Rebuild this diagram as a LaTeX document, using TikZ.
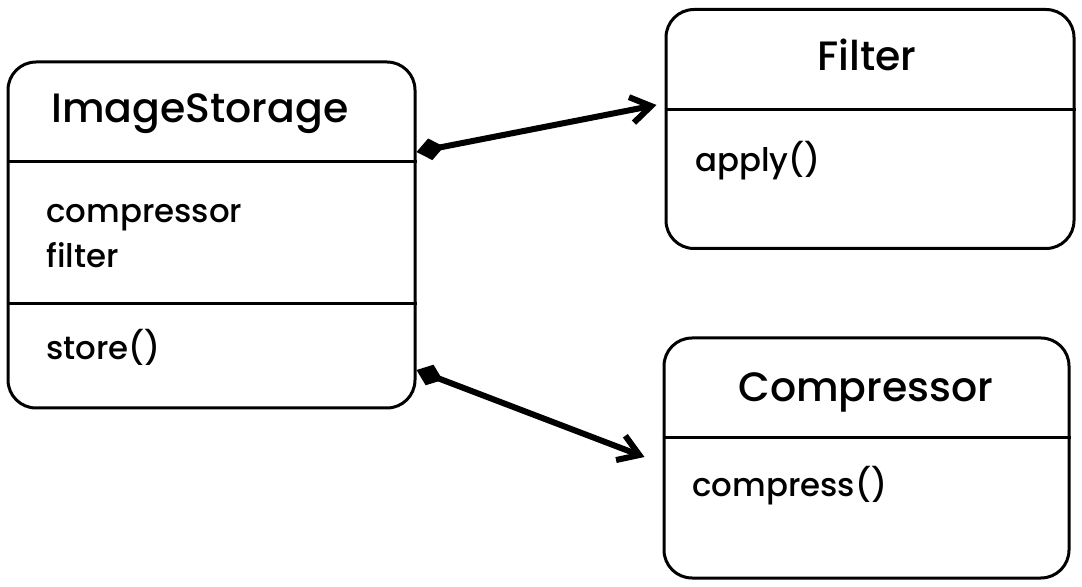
\documentclass[tikz,border=0pt]{standalone}
\usepackage{fontspec}
\setmainfont{Poppins}[UprightFont=* Medium]
\usepackage{tikz}
\usetikzlibrary{arrows.meta,positioning,calc}

\begin{document}
\begin{tikzpicture}[
  x=0.5pt, y=-0.5pt,
  cls/.style={
    rectangle, rounded corners=14pt, draw=black, line width=1.5pt,
    fill=white, inner sep=0pt
  },
  sep/.style={line width=1.5pt, draw=black},
  ttl/.style={anchor=base, inner sep=0pt, font=\fontsize{20.5}{25}\selectfont},
  mem/.style={anchor=base west, inner sep=0pt, align=left,
    font=\fontsize{16.2}{22.5}\selectfont},
  comp/.style={
    {Diamond[length=14pt,width=11pt]}-{Straight Barb[length=10pt,width=13pt]},
    line width=3pt, draw=black
  }
]
\useasboundingbox (0,0) rectangle (1082,587);

% Class boxes
\node[cls, minimum width=203.5pt, minimum height=173pt] (store) at (211.5,235) {};
\node[cls, minimum width=204pt, minimum height=119.5pt] (filter) at (870,129) {};
\node[cls, minimum width=202.5pt, minimum height=120pt] (compressor) at (866.5,458) {};

% Compartment lines
\draw[sep] (store.west |- 0,162) -- (store.east |- 0,162);
\draw[sep] (store.west |- 0,304) -- (store.east |- 0,304);
\draw[sep] (filter.west |- 0,110) -- (filter.east |- 0,110);
\draw[sep] (compressor.west |- 0,438) -- (compressor.east |- 0,438);

% Class names
\node[ttl] (storename) at (200,123) {ImageStorage};
\node[ttl] (filtername) at (867,71) {Filter};
\node[ttl] (compname) at (866,402) {Compressor};

% Members (base anchor sits on the last line)
\node[mem] (storefields) at (46,268) {compressor\\filter};
\node[mem] (storeops) at (46,360) {store()};
\node[mem] (filterops) at (695,172) {apply()};
\node[mem] (compops) at (692,497) {compress()};

% Composition links
\draw[comp] ([yshift=41.5pt]store.east) -- ([yshift=12pt,xshift=-4pt]filter.west);
\draw[comp] ([yshift=-67.5pt]store.east) -- ([yshift=0.5pt,xshift=-9pt]compressor.west);

\end{tikzpicture}
\end{document}
